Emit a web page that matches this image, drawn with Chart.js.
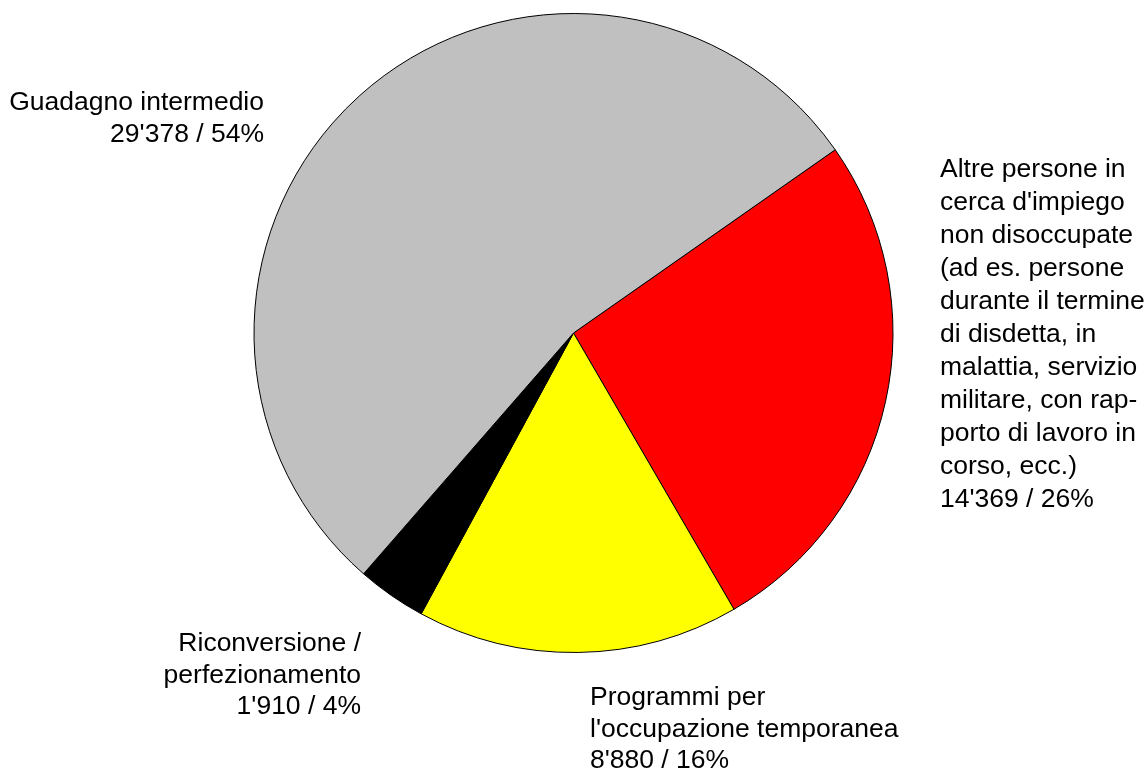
<!DOCTYPE html>
<html>
<head>
<meta charset="utf-8">
<script src="https://cdn.jsdelivr.net/npm/chart.js@4"></script>
<style>
  html, body { margin: 0; padding: 0; background: #fff; }
  #wrap { width: 1148px; height: 771px; position: relative; }
</style>
</head>
<body>
<div id="wrap"><canvas id="pie-chart"></canvas></div>
<script>
// slices, clockwise from the grey/red boundary
const categories = [
    ["Altre persone in", "cerca d'impiego", "non disoccupate", "(ad es. persone", "durante il termine", "di disdetta, in", "malattia, servizio", "militare, con rap-", "porto di lavoro in", "corso, ecc.)"],
    ["Programmi per", "l'occupazione temporanea"],
    ["Riconversione /", "perfezionamento"],
    ["Guadagno intermedio"]
];
const values = [14369, 8880, 1910, 29378];
const colors = ["#ff0000", "#ffff00", "#000000", "#c0c0c0"];

// where each label block goes (first baseline, line step)
const label_layout = [
    { x: 940, y: 177, step: 33, align: "left" },
    { x: 590, y: 705, step: 31.5, align: "left" },
    { x: 361, y: 651, step: 31.5, align: "right" },
    { x: 264, y: 110, step: 32, align: "right" }
];

const total = values.reduce((a, b) => a + b, 0);
function fmt(n) {
    return String(n).replace(/\B(?=(\d{3})+(?!\d))/g, "'");
}

const labelsPlugin = {
    id: "outsideLabels",
    afterDraw(chart) {
        const ctx = chart.ctx;
        ctx.save();
        ctx.fillStyle = "#000";
        ctx.font = "26.5px 'Liberation Sans', Arial, sans-serif";
        ctx.textBaseline = "alphabetic";
        chart.data.datasets[0].data.forEach((v, i) => {
            const pos = label_layout[i];
            const lines = categories[i].concat([fmt(v) + " / " + Math.round(v / total * 100) + "%"]);
            ctx.textAlign = pos.align;
            lines.forEach((t, k) => ctx.fillText(t, pos.x, pos.y + k * pos.step));
        });
        ctx.restore();
    }
};

const ctx = document.getElementById("pie-chart").getContext("2d");
const myChart = new Chart(ctx, {
    type: "pie",
    data: {
        labels: categories.map((c) => c.join(" ")),
        datasets: [{
            data: values,
            backgroundColor: colors,
            borderColor: "#000",
            borderWidth: 1
        }]
    },
    options: {
        responsive: true,
        maintainAspectRatio: false,
        animation: false,
        rotation: 55,
        layout: {
            padding: { left: 253, right: 254, top: 13, bottom: 118 }
        },
        plugins: {
            legend: { display: false },
            tooltip: { enabled: false }
        }
    },
    plugins: [labelsPlugin]
});
</script>
</body>
</html>
